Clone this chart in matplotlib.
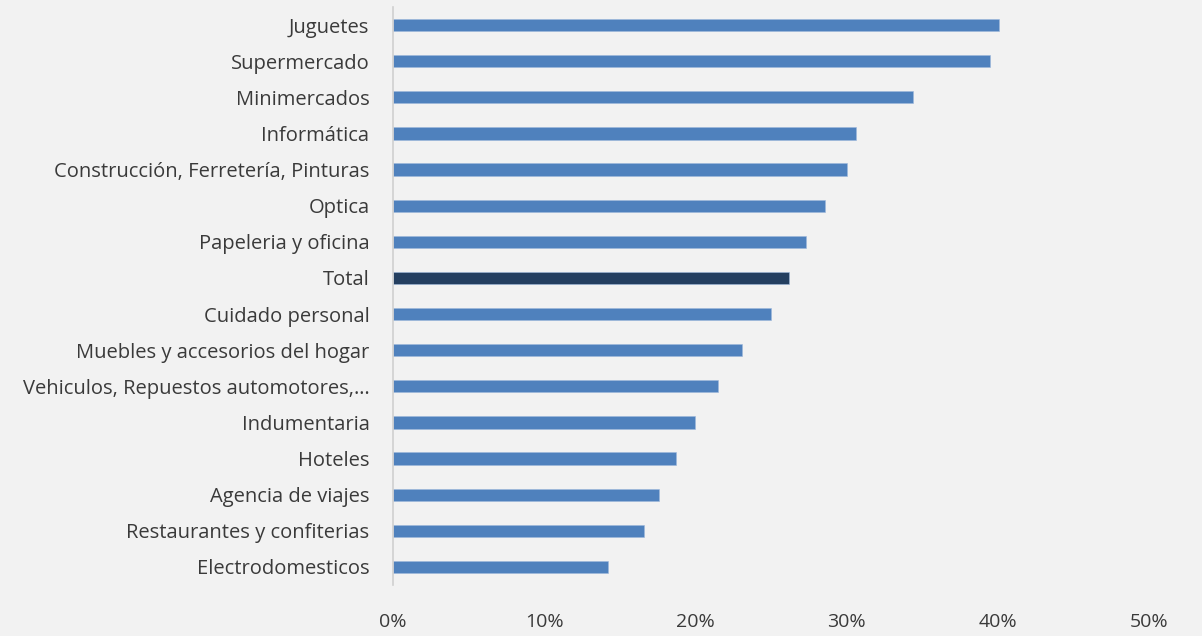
import matplotlib.pyplot as plt
import matplotlib.ticker as mtick

categorias = [
    'Juguetes', 'Supermercado', 'Minimercados', 'Informática',
    'Construcción, Ferretería, Pinturas', 'Optica', 'Papeleria y oficina',
    'Total', 'Cuidado personal', 'Muebles y accesorios del hogar',
    'Vehiculos, Repuestos automotores,…', 'Indumentaria', 'Hoteles',
    'Agencia de viajes', 'Restaurantes y confiterias', 'Electrodomesticos',
]
valores = [0.401, 0.395, 0.344, 0.306, 0.300, 0.286, 0.273, 0.262,
           0.250, 0.231, 0.215, 0.200, 0.187, 0.176, 0.166, 0.142]
ticks = [0, 0.1, 0.2, 0.3, 0.4, 0.5]

bg = '#f2f2f2'
colores = ['#243f60' if c == 'Total' else '#4f81bd' for c in categorias]

plt.rcParams['font.family'] = ['Open Sans', 'DejaVu Sans']

fig = plt.figure(figsize=(12.02, 6.36), dpi=100, facecolor=bg)
ax = fig.add_axes([393 / 1202, 1 - 585 / 636, (1149 - 393) / 1202, 578 / 636])
ax.set_facecolor(bg)

# barras horizontales, Total en azul oscuro
y = range(len(categorias))
ax.barh(y, valores, height=0.34, color=colores, edgecolor='#9db8dc',
        linewidth=0.4)
ax.set_ylim(len(categorias) - 0.5, -0.5)
ax.set_xlim(0, 0.5)
ax.set_yticks(list(y))
ax.set_yticklabels(categorias, fontsize=14.5, color='#3a3a3a')
ax.set_xticks(ticks)
ax.xaxis.set_major_formatter(mtick.PercentFormatter(1.0, decimals=0))
ax.tick_params(axis='x', length=0, pad=20, labelsize=14, labelcolor='#3a3a3a')
ax.tick_params(axis='y', length=0, pad=17)

for s in ['top', 'right', 'bottom']:
    ax.spines[s].set_visible(False)
ax.spines['left'].set_color('#d0d0d0')
ax.spines['left'].set_linewidth(1.2)

fig.savefig('out.png', dpi=100, facecolor=bg)
